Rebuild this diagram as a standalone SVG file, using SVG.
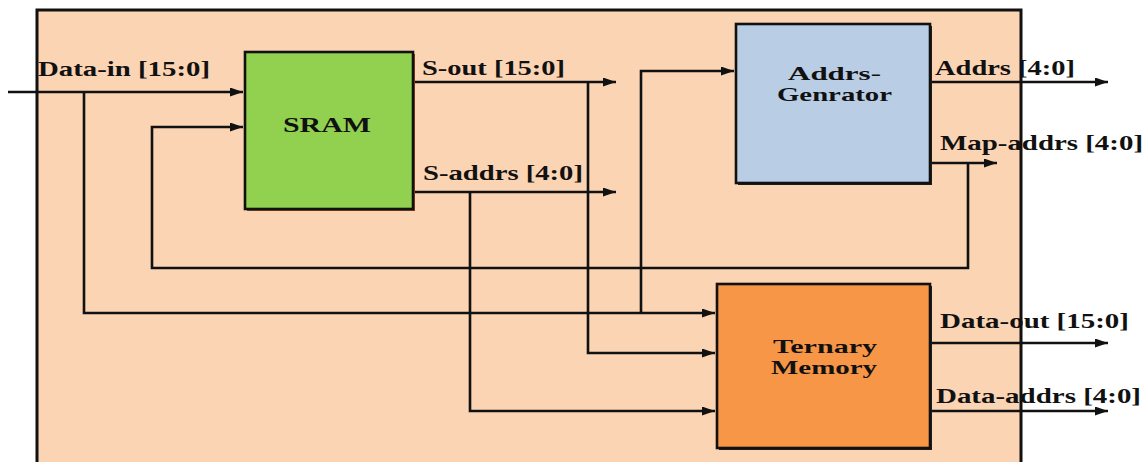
<svg xmlns="http://www.w3.org/2000/svg" width="1146" height="462" viewBox="0 0 1146 462">
<style>
.t{font-family:"Liberation Serif","Times New Roman",serif;font-weight:bold;font-size:21px;fill:#111}
.n{font-size:19px}
.w{fill:none;stroke:#111;stroke-width:2.6}
.box{stroke:#111;stroke-width:2.6}
</style>
<defs>
<marker id="ah" viewBox="0 0 13 9" refX="13" refY="4.5" markerWidth="13" markerHeight="9" markerUnits="userSpaceOnUse" orient="auto">
<path d="M0,0 L13,4.5 L0,9 z" fill="#111"/>
</marker>
</defs>
<rect x="0" y="0" width="1146" height="462" fill="#fff"/>
<rect id="outer-fill" x="37" y="10" width="984" height="470" fill="#FBD4B4"/>

<g id="connectors">
<path class="w" d="M8,92 H243" marker-end="url(#ah)"/>
<path class="w" d="M84,92 V313 H715" marker-end="url(#ah)"/>
<path class="w" d="M641,313 V71 H734" marker-end="url(#ah)"/>
<path class="w" d="M413,82 H616" marker-end="url(#ah)"/>
<path class="w" d="M588,82 V353 H715" marker-end="url(#ah)"/>
<path class="w" d="M413,192 H616" marker-end="url(#ah)"/>
<path class="w" d="M470,192 V411 H715" marker-end="url(#ah)"/>
<path class="w" d="M930,163 H997" marker-end="url(#ah)"/>
<path class="w" d="M968,163 V268 H152 V127 H243" marker-end="url(#ah)"/>
<path class="w" d="M930,82 H1108" marker-end="url(#ah)"/>
<path class="w" d="M930,343 H1108" marker-end="url(#ah)"/>
<path class="w" d="M930,411 H1108" marker-end="url(#ah)"/>
</g>

<g id="sram">
<rect x="247" y="54" width="168" height="157" fill="#8a4a20"/>
<rect class="box" x="245" y="52" width="168" height="157" fill="#92D050"/>
<text class="t" x="283" y="132" textLength="88" lengthAdjust="spacingAndGlyphs">SRAM</text>
</g>

<g id="addrs-generator">
<rect x="738" y="26" width="194" height="159" fill="#222"/>
<rect class="box" x="736" y="24" width="194" height="159" fill="#B9CDE5"/>
<text class="t n" x="788" y="80" textLength="93" lengthAdjust="spacingAndGlyphs">Addrs-</text>
<text class="t n" x="777" y="101" textLength="115" lengthAdjust="spacingAndGlyphs">Genrator</text>
</g>

<g id="ternary-memory">
<rect x="719" y="286" width="213" height="164" fill="#222"/>
<rect class="box" x="717" y="284" width="213" height="164" fill="#F79646"/>
<text class="t n" x="773" y="353" textLength="104" lengthAdjust="spacingAndGlyphs">Ternary</text>
<text class="t n" x="771" y="374" textLength="106" lengthAdjust="spacingAndGlyphs">Memory</text>
</g>

<g id="labels">
<text class="t" x="38" y="76" textLength="172" lengthAdjust="spacingAndGlyphs">Data-in [15:0]</text>
<text class="t" x="422" y="75" textLength="143" lengthAdjust="spacingAndGlyphs">S-out [15:0]</text>
<text class="t" x="423" y="180" textLength="160" lengthAdjust="spacingAndGlyphs">S-addrs [4:0]</text>
<text class="t" x="935" y="75" textLength="140" lengthAdjust="spacingAndGlyphs">Addrs [4:0]</text>
<text class="t" x="940" y="150" textLength="203" lengthAdjust="spacingAndGlyphs">Map-addrs [4:0]</text>
<text class="t" x="940" y="328" textLength="189" lengthAdjust="spacingAndGlyphs">Data-out [15:0]</text>
<text class="t" x="936" y="403" textLength="205" lengthAdjust="spacingAndGlyphs">Data-addrs [4:0]</text>
</g>

<rect id="outer-border" x="37" y="10" width="984" height="470" fill="none" stroke="#111" stroke-width="3"/>
</svg>
